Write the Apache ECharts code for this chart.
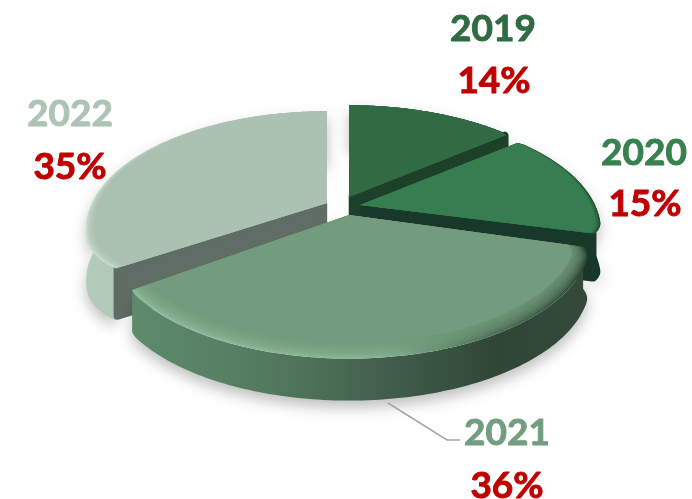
<!DOCTYPE html>
<html><head><meta charset="utf-8">
<style>html,body{margin:0;padding:0;background:#fff}#c{width:692px;height:499px}</style>
<script src="https://cdn.jsdelivr.net/npm/echarts@6/dist/echarts.min.js"></script>
</head><body><div id="c"></div>
<script>
const years = ['2019', '2020', '2021', '2022'];
const shares = [14, 15, 36, 35];

// --- styling and layout, separate from the data ---
const apexX = [349, 360, 349, 327];
const apexY = [197, 205, 215, 203];
const paintRank = [0, 2, 3, 1];
const startInsetDeg = [0, 0, 1.5, 3];
// corner rounding: [span at start (deg), radius loss at start, span at end, radius loss at end]
const cornerRound = [[0, 0, 3, 0.01], [3, 0.01, 6, 0.025], [6, 0.025, 3, 0.006], [16, 0.05, 0, 0]];
const depths = [42, 48, 42, 52];
const bevelWidth = [0.02, 0.03, 0.085, 0.05];
const faceColors = ['#316b43', '#367d4f', '#739b7d', '#abc1b1'];
const labelColors = ['#2f6b43', '#37804f', '#739d80', '#adc4b4'];
const edgeColors = ['#1c4029', '#18382a', '#33493a', '#5f6d64'];
const rimStops = [
  [[0, '#1c4029'], [1, '#1c4029']],
  [[0, '#18382a'], [1, '#16352a']],
  [[0, '#5f8a6c'], [0.3, '#527a5f'], [0.55, '#435f4c'], [0.8, '#2f4636'], [1, '#34493a']],
  [[0, '#b4ccbb'], [0.6, '#a3bbab'], [1, '#9cb3a4']]
];
const bevelStops = [
  [[0, '#3a7a4f'], [1, '#2a5c3a']],
  [[0, '#3d8a58'], [0.7, '#2f6d46'], [1, '#1f4a30']],
  [[0, '#8ebb9b'], [0.55, '#86b293'], [0.78, '#4f7459'], [1, '#2f4a38']],
  [[0, '#c6dccc'], [1, '#b7cdbd']]
];
const labelPos = [[493, 29, 494, 81], [644, 153, 645, 204], [507, 433, 507, 486], [70, 114, 70, 167]];
const rx = 235, ry = 112, persp = 0.22;
const total = shares.reduce((a, b) => a + b, 0);

function project(ax, ay, theta, r) {
  const X = Math.sin(theta) * r, Y = Math.cos(theta) * r;
  const s = 1 / (1 + persp * Y);
  return [ax + rx * X * s, ay - ry * Y * s];
}
function arc(i, ax, ay, a0, a1, w) {
  const pts = [], n = 120, c = cornerRound[i], rad = Math.PI / 180;
  for (let k = 0; k <= n; k++) {
    const t = a0 + (a1 - a0) * k / n;
    // bevel is wide at the front of the pie and thin at the back
    let r = 1 - w * (0.08 + 0.92 * (1 - Math.cos(t)) / 2);
    const fromStart = (t - a0) / rad, fromEnd = (a1 - t) / rad;
    if (fromStart < c[0]) r -= c[1] * Math.pow(1 - fromStart / c[0], 2);
    if (fromEnd < c[2]) r -= c[3] * Math.pow(1 - fromEnd / c[2], 2);
    pts.push(project(ax, ay, t, r));
  }
  return pts;
}
function grad(stops) {
  return new echarts.graphic.LinearGradient(0, 0, 1, 0,
    stops.map(s => ({ offset: s[0], color: s[1] })));
}

function renderItem(params, api) {
  const i = params.dataIndex;
  let before = 0;
  for (let k = 0; k < i; k++) before += shares[k];
  const a0 = before / total * 2 * Math.PI + startInsetDeg[i] * Math.PI / 180;
  const a1 = (before + api.value(1)) / total * 2 * Math.PI;
  const ax = apexX[i], ay = apexY[i], base = paintRank[i] * 100, depth = depths[i];
  const outer = arc(i, ax, ay, a0, a1, 0);
  const lower = outer.map(p => [p[0], p[1] + depth]).reverse();
  const children = [];
  const shadow = { shadowBlur: 14, shadowColor: 'rgba(0,0,0,0.25)', shadowOffsetY: 7 };
  // cut walls that face the viewer, then the rim
  const walls = [];
  if (Math.sin(a0) < -1e-6) walls.push(outer[0]);
  if (Math.sin(a1) > 1e-6) walls.push(outer[outer.length - 1]);
  walls.forEach((tip, n) => {
    const d = depth - 4;
    const len = Math.hypot(tip[0] - ax, tip[1] - ay);
    // pull both ends in by the stroke half-width so the rounded stroke ends at the true edge
    const ix = ax + (tip[0] - ax) * 4 / len, iy = ay + (tip[1] - ay) * 4 / len;
    const ox = tip[0] - (tip[0] - ax) * 2 / len, oy = tip[1] - (tip[1] - ay) * 2 / len;
    children.push({ type: 'polygon', z2: base + 2 + n,
      shape: { points: [[ix, iy], [ox, oy], [ox, oy + d], [ix, iy + d]] },
      style: { fill: edgeColors[i], stroke: edgeColors[i], lineWidth: 8, lineJoin: 'round' } });
  });
  children.push({ type: 'polygon', z2: base + 1, shape: { points: outer.concat(lower) },
    style: Object.assign({ fill: grad(rimStops[i]) }, shadow) });
  // top face: bevel colour under stacked bands that fade into the face colour
  children.push({ type: 'polygon', z2: base + 10, shape: { points: [[ax, ay]].concat(outer) },
    style: { fill: grad(bevelStops[i]) } });
  const bands = 8;
  for (let n = 1; n <= bands; n++) {
    children.push({ type: 'polygon', z2: base + 10 + n,
      shape: { points: [[ax, ay]].concat(arc(i, ax, ay, a0, a1, bevelWidth[i] * n / bands)) },
      style: { fill: faceColors[i], opacity: n === bands ? 1 : 0.22 } });
  }
  // labels
  const lp = labelPos[i];
  children.push({ type: 'text', z2: 1000, style: { x: lp[0], y: lp[1], text: api.value(0) + '',
    fill: labelColors[i], stroke: labelColors[i], lineWidth: 0.9,
    font: 'bold 37px Lato', align: 'center', verticalAlign: 'middle' } });
  children.push({ type: 'text', z2: 1000, style: { x: lp[2], y: lp[3], text: api.value(1) + '%',
    fill: '#c00000', stroke: '#c00000', lineWidth: 0.9,
    font: 'bold 37px Lato', align: 'center', verticalAlign: 'middle' } });
  if (i === 2) {
    children.push({ type: 'polyline', z2: 900,
      shape: { points: [[388, 403], [447, 440], [460, 440]] },
      style: { stroke: '#a6a6a6', lineWidth: 1.5, fill: null } });
  }
  return { type: 'group', children };
}

const chart = echarts.init(document.getElementById('c'), null, { renderer: 'canvas' });
chart.setOption({
  animation: false,
  backgroundColor: '#ffffff',
  series: [{
    type: 'custom',
    coordinateSystem: 'none',
    renderItem,
    encode: { itemName: 0, value: 1 },
    data: years.map((y, i) => [y, shares[i]])
  }]
});
</script></body></html>
